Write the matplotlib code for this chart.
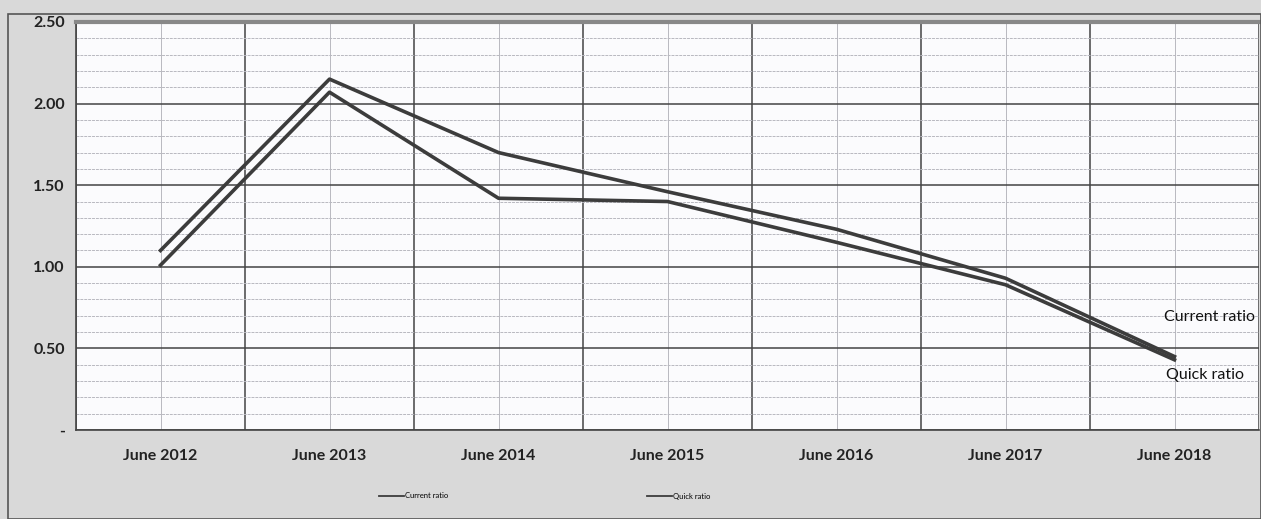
import numpy as np
import matplotlib
matplotlib.use("Agg")
from matplotlib import pyplot as plt
from matplotlib.ticker import MultipleLocator, FixedLocator
from matplotlib.patches import Rectangle

periods = ["June 2012", "June 2013", "June 2014", "June 2015", "June 2016", "June 2017", "June 2018"]
current_ratio = [1.10, 2.15, 1.70, 1.46, 1.23, 0.93, 0.45]
quick_ratio = [1.01, 2.07, 1.42, 1.40, 1.15, 0.89, 0.43]
ytick_values = [0, 0.5, 1.0, 1.5, 2.0, 2.5]
ytick_labels = ["-", "0.50", "1.00", "1.50", "2.00", "2.50"]

plt.rcParams['font.family'] = ['Lato', 'DejaVu Sans']

fig = plt.figure(figsize=(12.61, 5.19), dpi=100)
fig.patch.set_facecolor('#d9d9d9')
# scanned page frame
fig.add_artist(Rectangle((8/1261, 0), 1 - 8/1261, 1 - 14/519, transform=fig.transFigure,
                         fill=False, edgecolor='#555555', linewidth=1.2))

ax = fig.add_axes([76/1261, 1 - 430/519, 1183/1261, 408/519])
ax.set_facecolor('#fbfbfd')

x = np.arange(len(periods))
line_color = '#3c3c3c'
ax.plot(x, current_ratio, color=line_color, linewidth=2.6, label='Current ratio', zorder=5)
ax.plot(x, quick_ratio, color=line_color, linewidth=2.6, label='Quick ratio', zorder=5)

ax.set_xlim(-0.5, len(periods) - 0.5)
ax.set_ylim(0, 2.5)

# x: labels at centres (light grid), boundaries dark
ax.set_xticks(x)
ax.set_xticklabels(periods, fontsize=11.5, fontweight='bold')
ax.xaxis.set_minor_locator(FixedLocator(np.arange(-0.5, len(periods), 1.0)))
ax.set_yticks(ytick_values)
ax.set_yticklabels(ytick_labels, fontsize=11.5, fontweight='bold')
ax.yaxis.set_minor_locator(MultipleLocator(0.1))

ax.tick_params(axis='both', which='both', length=0, colors='#222222')
ax.tick_params(axis='x', pad=14)
ax.tick_params(axis='y', pad=8)

ax.grid(True, axis='y', which='major', color='#444444', linewidth=1.1)
ax.grid(True, axis='y', which='minor', color='#b8b8c0', linewidth=0.7, linestyle=(0, (3, 1)))
ax.grid(True, axis='x', which='minor', color='#444444', linewidth=1.1)
ax.grid(True, axis='x', which='major', color='#b8b8c0', linewidth=0.7)
ax.set_axisbelow(True)

for side in ['left', 'bottom']:
    ax.spines[side].set_color('#444444')
    ax.spines[side].set_linewidth(1.2)
ax.spines['top'].set_color('#888888')
ax.spines['top'].set_linewidth(3)
ax.spines['right'].set_visible(False)

ax.text(6.21, 0.69, "Current ratio", fontsize=11.5, ha='center', va='center', color='#111111')
ax.text(6.18, 0.34, "Quick ratio", fontsize=11.5, ha='center', va='center', color='#111111')

leg = fig.legend(loc='center', bbox_to_anchor=(545/1261, 1 - 496/519), ncol=2, frameon=False,
                 fontsize=5.5, handlelength=3.2, handletextpad=0.2, columnspacing=26)
for h in leg.get_lines():
    h.set_linewidth(1.3)

plt.savefig('out.png', dpi=100, facecolor=fig.get_facecolor())
